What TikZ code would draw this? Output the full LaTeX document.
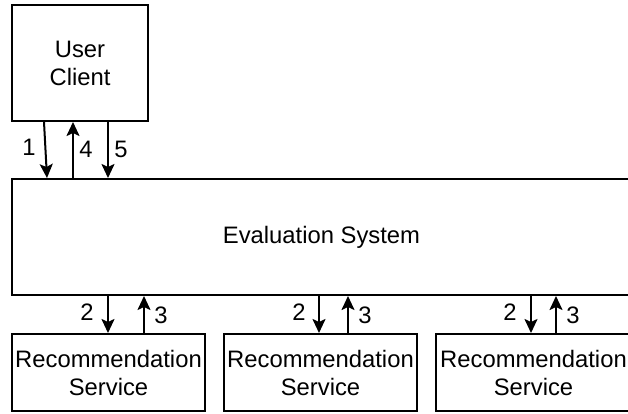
\documentclass[tikz,border=0pt]{standalone}
\usepackage{fontspec}
\setmainfont{Liberation Sans}
\usetikzlibrary{arrows.meta}
\begin{document}
\begin{tikzpicture}[x=1pt,y=-1pt,
  box/.style={draw, line width=2pt, inner sep=0pt, align=center, font=\fontsize{23.8}{28}\selectfont},
  arr/.style={line width=2pt, -{Stealth[length=14pt,width=13pt,inset=3pt]}},
  lbl/.style={font=\fontsize{23.8}{27}\selectfont, inner sep=0pt}]
\useasboundingbox (0,0) rectangle (628,414);
\clip (0,0) rectangle (628,414);
\node[box, minimum width=136pt, minimum height=116pt] (uc) at (80,63) {User\\Client};
\node[box, minimum width=619pt, minimum height=116pt] (es) at (321.5,237) {Evaluation System};
\node[box, minimum width=193pt, minimum height=77pt] (rb1) at (108.5,372.5) {Recommendation\\Service};
\node[box, minimum width=193pt, minimum height=77pt] (rb2) at (320.5,372.5) {Recommendation\\Service};
\node[box, minimum width=195pt, minimum height=77pt] (rb3) at (533.5,372.5) {Recommendation\\Service};
% client <-> evaluation
\draw[arr] ([xshift=33pt]uc.south west) -- ([xshift=36pt]es.north west);
\draw[arr] ([xshift=62pt]es.north west) -- ([xshift=62pt]uc.south west);
\draw[arr] ([xshift=97pt]uc.south west) -- ([xshift=97pt]es.north west);
\node[lbl] (l1) at (29,147) {1};
\node[lbl] (l4) at (86,149) {4};
\node[lbl] (l5) at (121,149) {5};
% evaluation <-> services
\draw[arr] ([xshift=97pt]es.south west) -- ([xshift=97pt]rb1.north west);
\draw[arr] ([xshift=133pt]rb1.north west) -- ([xshift=133pt]es.south west);
\draw[arr] ([xshift=308pt]es.south west) -- ([xshift=96pt]rb2.north west);
\draw[arr] ([xshift=125pt]rb2.north west) -- ([xshift=337pt]es.south west);
\draw[arr] ([xshift=520pt]es.south west) -- ([xshift=96pt]rb3.north west);
\draw[arr] ([xshift=121pt]rb3.north west) -- ([xshift=545pt]es.south west);
\node[lbl] (a2) at (87,312) {2};
\node[lbl] (a3) at (161,315) {3};
\node[lbl] (b2) at (299,312) {2};
\node[lbl] (b3) at (365,315) {3};
\node[lbl] (c2) at (510,312) {2};
\node[lbl] (c3) at (573,315) {3};
\end{tikzpicture}
\end{document}
